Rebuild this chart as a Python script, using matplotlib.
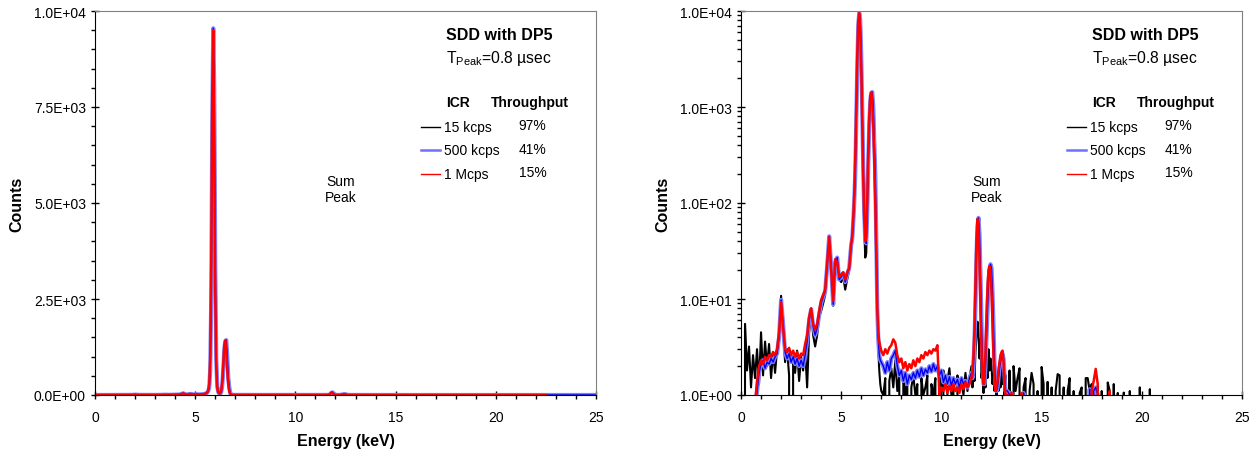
import numpy as np
import matplotlib
matplotlib.use('Agg')
import matplotlib.pyplot as plt
from matplotlib.ticker import MultipleLocator, FuncFormatter, LogLocator, NullFormatter
from matplotlib.lines import Line2D

plt.rcParams['font.family'] = ['Liberation Sans', 'DejaVu Sans']
plt.rcParams['mathtext.fontset'] = 'custom'
plt.rcParams['mathtext.rm'] = 'Liberation Sans'

# channel energies (keV): coarse in the flat regions, finer around the peaks
energy = np.round(np.concatenate([
    np.arange(0.0, 5.55, 0.1),      # A: 56 channels
    np.arange(5.55, 7.025, 0.05),   # B: 30 channels
    np.arange(7.1, 11.55, 0.1),     # C: 45 channels
    np.arange(11.55, 13.225, 0.05), # D: 34 channels
    np.arange(13.3, 21.05, 0.1),    # E: 78 channels
    [22.5, 25.0],
]), 3)

# counts, ICR = 15 kcps
black_counts = [
    # 0.0 - 5.5
    0, 0, 5.5, 1.8, 3.2, 1.2, 2.6, 1.5, 3.0, 1.3,
    4.5, 1.6, 3.6, 2.0, 3.4, 1.5, 2.8, 1.7, 3.0, 4.0,
    10.8, 4.5, 2.2, 3.0, 1.6, 0, 2.4, 1.7, 2.9, 1.4,
    2.5, 1.8, 3.0, 1.2, 4.5, 7.5, 4.2, 3.2, 4.2, 6.5,
    7.5, 9.0, 11.0, 22, 42, 18, 8.5, 22, 26, 16,
    15, 17, 12.5, 16, 20, 36,
    # 5.55 - 7.0
    40, 60, 105, 230, 850, 3100, 7500, 9400, 6600, 2800,
    760, 170, 55, 27, 30, 95, 300, 750, 1250, 1400,
    1250, 750, 300, 110, 25, 6, 3.0, 1.8, 1.3, 1.1,
    # 7.1 - 11.5
    1.0, 1.5, 0, 1.4, 1.9, 1.2, 2.3, 1.1, 1.6, 0,
    1.5, 1.0, 1.4, 0, 1.2, 1.6, 1.0, 1.3, 0, 1.5,
    1.0, 1.2, 1.6, 0, 1.3, 1.0, 1.5, 0, 1.7, 1.1,
    1.8, 0, 1.4, 1.9, 1.0, 1.5, 0, 1.6, 1.1, 1.4,
    1.0, 1.7, 1.1, 1.5, 2.0,
    # 11.55 - 13.2
    1.2, 2.2, 1.4, 2.8, 4.0, 5.8, 4.5, 2.4, 3.8, 1.5,
    2.0, 1.05, 1.6, 1.2, 2.2, 1.5, 3.0, 1.8, 2.4, 2.0,
    1.3, 1.7, 1.1, 1.5, 1.0, 1.4, 1.1, 1.6, 1.2, 2.0,
    1.3, 1.5, 1.0, 1.6,
    # 13.3 - 21.0
    0, 1.8, 0, 2.0, 1.1, 1.5, 1.9, 0, 1.2, 1.5,
    0, 1.1, 1.7, 1.3, 0, 1.1, 0, 1.96, 1.3, 0,
    1.37, 0, 1.2, 0, 1.1, 1.65, 1.6, 0, 1.2, 0,
    1.1, 1.5, 0, 1.1, 0, 0, 1.05, 1.2, 0, 1.5,
    1.5, 1.1, 1.3, 0, 1.1, 1.2, 0, 1.1, 0, 0,
    1.35, 1.1, 0, 1.3, 0, 1.05, 0, 0, 1.06, 0,
    0, 1.1, 0, 0, 0, 0, 1.2, 0, 0, 0,
    0, 1.15, 0, 0, 0, 0, 0, 0,
    # tail
    0, 0,
]

# ICR = 500 kcps
blue_counts = [
    0, 0, 0, 0, 0, 0, 0, 0.7, 1.1, 1.7,
    2.1, 2.3, 1.9, 2.2, 2.1, 2.4, 2.2, 2.5, 2.7, 4.0,
    9.8, 5.5, 2.8, 2.4, 2.7, 2.2, 2.5, 2.1, 2.4, 2.0,
    2.3, 2.0, 2.6, 3.6, 6.0, 7.8, 5.2, 4.2, 5.0, 6.8,
    9.0, 10.5, 12, 22, 45, 22, 8.8, 24, 27, 16,
    17, 18.5, 15, 18, 21, 37,
    42, 62, 100, 200, 650, 2500, 7000, 9550, 8000, 3400,
    950, 230, 80, 40, 38, 80, 250, 650, 1150, 1400,
    1430, 1000, 450, 200, 45, 8, 3.8, 2.6, 2.3, 2.2,
    2.0, 1.7, 2.2, 1.8, 2.4, 2.6, 2.9, 2.0, 1.6, 1.8,
    1.4, 1.7, 1.3, 1.6, 1.45, 1.7, 1.5, 1.8, 1.55, 1.9,
    1.6, 1.85, 1.7, 2.0, 1.75, 2.1, 1.8, 2.0, 1.6, 1.8,
    1.35, 1.6, 1.3, 1.55, 1.25, 1.5, 1.3, 1.45, 1.2, 1.5,
    1.3, 1.4, 1.2, 1.5, 1.7,
    1.5, 2.0, 3.5, 9, 28, 58, 70, 48, 18, 5.5,
    2.2, 1.3, 1.3, 2.0, 4.0, 8.5, 15, 20, 23, 21,
    12, 5.0, 2.2, 1.3, 1.1, 1.2, 1.5, 1.9, 2.2, 2.5,
    2.7, 2.4, 1.6, 1.1,
    1.1, 1.0, 1.05, 0, 0, 0, 0, 0, 1.05, 0,
    0, 0, 0, 0, 0, 0, 0, 0, 0, 0,
    0, 0, 0, 0, 0, 0, 0, 0, 0, 0,
    0, 0, 0, 0, 0, 0, 0, 0, 0, 0,
    0, 1.15, 0, 1.1, 1.2, 1.0, 0, 0, 0, 0,
    0, 0, 0, 0, 0, 0, 0, 0, 0, 0,
    0, 0, 0, 0, 0, 0, 0, 0, 0, 0,
    0, 0, 0, 0, 0, 0, 0, 0,
    0, 0,
]

# ICR = 1 Mcps
red_counts = [
    0, 0, 0, 0, 0, 0, 0, 0.8, 1.4, 2.0,
    2.3, 2.1, 2.5, 2.3, 2.6, 2.5, 2.8, 2.6, 3.0, 4.5,
    9.3, 5.0, 3.0, 2.8, 3.1, 2.6, 2.9, 2.5, 2.8, 2.4,
    2.7, 2.6, 3.4, 4.2, 6.5, 8.0, 5.5, 4.8, 5.5, 7.5,
    9.8, 11, 12.5, 24, 44, 20, 9.5, 26, 24, 17,
    18, 19, 16, 19, 21, 38,
    45, 70, 120, 280, 950, 3400, 7900, 9500, 6300, 2600,
    700, 180, 70, 40, 45, 110, 350, 800, 1300, 1420,
    1150, 650, 280, 100, 28, 8, 4.5, 3.6, 3.2, 2.9,
    2.6, 3.0, 2.7, 3.1, 3.3, 3.8, 3.5, 2.6, 2.2, 2.4,
    1.9, 2.2, 1.8, 2.1, 1.9, 2.3, 2.0, 2.4, 2.2, 2.6,
    2.4, 2.8, 2.6, 2.9, 2.7, 3.0, 2.9, 3.3, 1.0, 1.2,
    1.1, 1.3, 1.05, 1.25, 1.1, 1.3, 1.1, 1.2, 1.05, 1.3,
    1.15, 1.35, 1.2, 1.3, 1.5,
    1.8, 2.6, 5.0, 15, 42, 68, 55, 25, 8, 3.0,
    1.6, 1.3, 1.6, 2.8, 6.5, 13, 20, 22, 20, 12,
    5.5, 2.5, 1.4, 1.1, 1.2, 1.4, 1.8, 2.2, 2.6, 2.8,
    2.9, 2.2, 1.3, 1.0,
    1.0, 0, 1.05, 0, 0, 0, 0, 1.05, 0, 0,
    0, 0, 0, 0, 0, 0, 0, 0, 0, 0,
    0, 0, 0, 0, 0, 0, 0, 0, 0, 0,
    0, 0, 0, 0, 0, 0, 0, 0, 0, 0,
    0, 0, 1.1, 1.4, 1.87, 1.3, 0, 0, 0, 0,
    0, 1.1, 0, 0, 0, 0, 0, 0, 0, 0,
    0, 0, 0, 0, 0, 0, 0, 0, 0, 0,
    0, 0, 0, 0, 0, 0, 0, 0,
    0, np.nan,
]

icr_labels = ['15 kcps', '500 kcps', '1 Mcps']
throughput = ['97%', '41%', '15%']
legend_colors = ['black', '#7070ff', '#ff0000']

for s in (black_counts, blue_counts, red_counts):
    assert len(s) == len(energy), (len(s), len(energy))

fig = plt.figure(figsize=(12.56, 4.52), dpi=100)
ax1 = fig.add_axes([95 / 1256, 56 / 452, 501 / 1256, 384 / 452])
ax2 = fig.add_axes([741 / 1256, 56 / 452, 501 / 1256, 384 / 452])

for ax in (ax1, ax2):
    ax.plot(energy, black_counts, color='black', lw=1.5)
    # blue trace: light halo with a darker core, as in the original
    ax.plot(energy, blue_counts, color='#8080ff', lw=3.0)
    ax.plot(energy, blue_counts, color='#0000ee', lw=1.0)
    ax.plot(energy, red_counts, color='#ff0000', lw=1.8)

# linear panel
ax1.set_ylim(0, 10000)
ax1.yaxis.set_major_locator(MultipleLocator(2500))
ax1.yaxis.set_minor_locator(MultipleLocator(500))

# log panel
ax2.set_yscale('log')
ax2.set_ylim(1, 10000)
ax2.yaxis.set_major_locator(LogLocator(base=10))
ax2.yaxis.set_minor_locator(LogLocator(base=10, subs=range(2, 10)))
ax2.yaxis.set_minor_formatter(NullFormatter())

for ax in (ax1, ax2):
    ax.set_xlim(0, 25)
    ax.xaxis.set_major_locator(MultipleLocator(5))
    ax.xaxis.set_minor_locator(MultipleLocator(1))
    ax.yaxis.set_major_formatter(FuncFormatter(lambda v, p: f'{v:.1E}'))
    ax.tick_params(which='major', direction='inout', length=6, width=1, labelsize=10)
    ax.tick_params(axis='x', which='major', pad=8)
    ax.tick_params(which='minor', direction='out', length=3, width=1)
    ax.spines['top'].set_color('#808080')
    ax.spines['right'].set_color('#808080')
    ax.set_xlabel('Energy (keV)', fontsize=11.5, fontweight='bold')
    ax.set_ylabel('Counts', fontsize=11.5, fontweight='bold')
    ax.xaxis.set_label_coords(0.5, -0.098)
    ax.yaxis.set_label_coords(-0.14, 0.5)

    # annotation block
    ax.text(0.70, 0.9375, 'SDD with DP5', transform=ax.transAxes, fontsize=11.5,
            fontweight='bold', va='center')
    ax.text(0.70, 0.88, r'T$_{\rm Peak}$=0.8 µsec', transform=ax.transAxes,
            fontsize=11.3, va='center')
    ax.text(0.70, 0.763, 'ICR', transform=ax.transAxes, fontsize=10,
            fontweight='bold', va='center')
    ax.text(0.79, 0.763, 'Throughput', transform=ax.transAxes, fontsize=10,
            fontweight='bold', va='center')
    for i, (lab, tp, lc) in enumerate(zip(icr_labels, throughput, legend_colors)):
        yy = 0.698 - i * 0.061
        ax.add_line(Line2D([0.651, 0.689], [yy, yy], transform=ax.transAxes,
                           color=lc, lw=1.8 if i == 1 else 1.0))
        ax.text(0.697, yy, lab, transform=ax.transAxes, fontsize=10, va='center')
        ax.text(0.846, yy + 0.004, tp, transform=ax.transAxes, fontsize=10, va='center')
    ax.text(0.49, 0.536, 'Sum\nPeak', transform=ax.transAxes, fontsize=10,
            ha='center', va='center', linespacing=1.15)

fig.savefig('out.png', dpi=100)
